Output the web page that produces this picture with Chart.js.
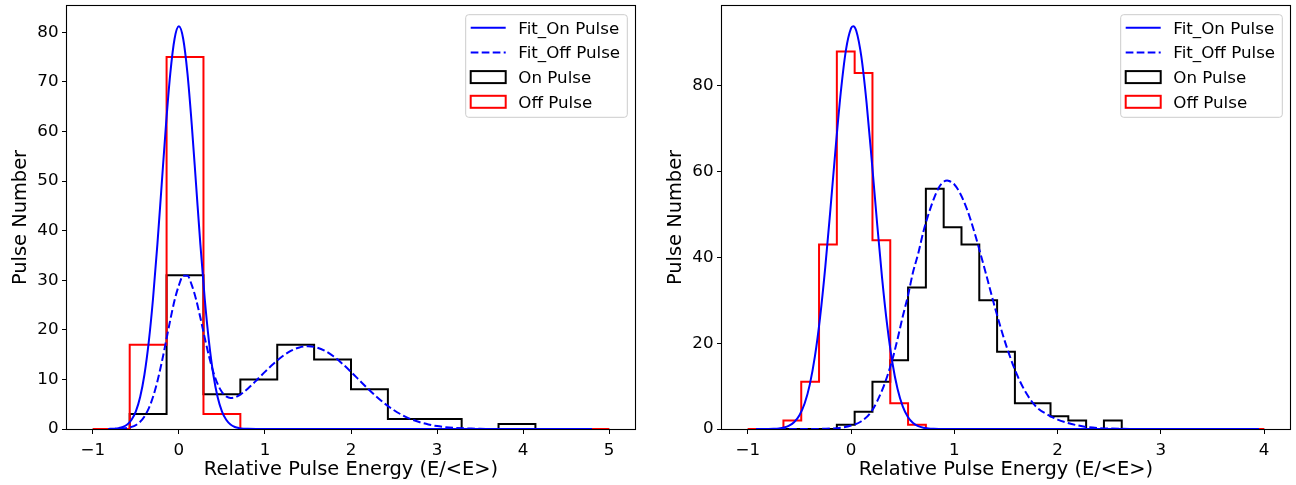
<!DOCTYPE html>
<html>
<head>
<meta charset="utf-8">
<script src="https://cdn.jsdelivr.net/npm/chart.js@4.4.1/dist/chart.umd.min.js"></script>
<style>
  html, body { margin: 0; padding: 0; background: #ffffff; }
  #wrap { position: relative; width: 1296px; height: 485px; }
  canvas { position: absolute; top: 0; }
</style>
</head>
<body>
<div id="wrap">
  <canvas id="leftPanel" width="648" height="485" style="left:0px"></canvas>
  <canvas id="rightPanel" width="648" height="485" style="left:648px"></canvas>
</div>
<script>
// ---- histogram binning (range and bin count per panel) ----
const leftBinRange = [-1, 5];
const leftBinCount = 14;
const rightBinRange = [-1, 4];
const rightBinCount = 29;

// ---- histogram counts ----
const leftOnCounts  = [0, 3, 31, 7, 10, 17, 14, 8, 2, 2, 0, 1, 0, 0];
const leftOffCounts = [0, 17, 75, 3, 0, 0, 0, 0, 0, 0, 0, 0, 0, 0];
const rightOnCounts  = [0, 0, 0, 0, 0, 1, 4, 11, 16, 33, 56, 47, 43, 30, 18, 6, 6, 3, 2, 0, 2, 0, 0, 0, 0, 0, 0, 0, 0];
const rightOffCounts = [0, 0, 2, 11, 43, 88, 83, 44, 6, 1, 0, 0, 0, 0, 0, 0, 0, 0, 0, 0, 0, 0, 0, 0, 0, 0, 0, 0, 0];

// ---- fitted curves, sampled ----
const leftFitOnX = [-0.82, -0.75, -0.7, -0.65, -0.6, -0.55, -0.5, -0.45, -0.4, -0.35, -0.3, -0.25, -0.2, -0.15, -0.1, -0.05,
  0, 0.05, 0.1, 0.15, 0.2, 0.25, 0.3, 0.35, 0.4, 0.45, 0.5, 0.55, 0.6, 0.65, 0.7, 0.75, 0.8, 0.9, 4.8];
const leftFitOnY = [0.02, 0.07, 0.18, 0.41, 0.90, 1.85, 3.57, 6.46, 10.99, 17.56, 26.36, 37.17, 49.25, 61.29, 71.66, 78.70,
  81.2, 78.70, 71.66, 61.29, 49.25, 37.17, 26.36, 17.56, 10.99, 6.46, 3.57, 1.85, 0.90, 0.41, 0.18, 0.07, 0.03, 0, 0];

const leftFitOffX = [-0.82, -0.75, -0.7, -0.65, -0.6, -0.55, -0.5, -0.45, -0.4, -0.35, -0.3, -0.25, -0.2, -0.15, -0.1, -0.05,
  0, 0.05, 0.1, 0.15, 0.2, 0.25, 0.3, 0.35, 0.4, 0.45, 0.5, 0.55, 0.6, 0.65, 0.7, 0.75, 0.8, 0.85, 0.9, 0.95, 1.0,
  1.1, 1.2, 1.3, 1.4, 1.5, 1.6, 1.7, 1.8, 1.9, 2.0, 2.1, 2.2, 2.3, 2.4, 2.5, 2.6, 2.7, 2.8, 2.9, 3.0, 3.1, 3.2, 3.3, 3.4, 3.5, 3.6,
  3.8, 4.0, 4.8];
const leftFitOffY = [0.01, 0.02, 0.05, 0.10, 0.21, 0.42, 0.80, 1.46, 2.53, 4.16, 6.49, 9.58, 13.36, 17.62, 21.99, 25.95,
  28.97, 30.9, 30.9, 29.01, 26.13, 22.42, 18.43, 14.67, 11.50, 9.08, 7.47, 6.57, 6.25, 6.37, 6.78, 7.40, 8.13, 8.94, 9.79, 10.65, 11.52,
  13.16, 14.61, 15.74, 16.45, 16.7, 16.45, 15.74, 14.61, 13.16, 11.52, 9.78, 8.06, 6.45, 5.01, 3.78, 2.77, 1.96, 1.36, 0.91, 0.59, 0.37, 0.23, 0.14, 0.08, 0.04, 0.02,
  0.01, 0, 0];

const rightFitOnX = [-0.92, -0.8, -0.75, -0.7, -0.65, -0.6, -0.55, -0.5, -0.45, -0.4, -0.35, -0.3, -0.25, -0.2, -0.15, -0.1, -0.05,
  0, 0.02, 0.05, 0.1, 0.15, 0.2, 0.25, 0.3, 0.35, 0.4, 0.45, 0.5, 0.55, 0.6, 0.65, 0.7, 0.75, 0.8, 0.85, 1.0, 3.95];
const rightFitOnY = [0, 0.02, 0.06, 0.14, 0.34, 0.77, 1.62, 3.20, 5.94, 10.35, 16.97, 26.10, 37.75, 51.27, 65.43, 78.44, 88.32,
  93.43, 93.9, 92.85, 86.68, 76.02, 62.63, 48.48, 35.24, 24.07, 15.45, 9.31, 5.27, 2.80, 1.40, 0.66, 0.29, 0.12, 0.05, 0.02, 0, 0];

const rightFitOffX = [-0.92, -0.3, -0.2, -0.1, 0.0, 0.1, 0.2, 0.3, 0.35, 0.4, 0.45, 0.5, 0.55, 0.6, 0.65, 0.7, 0.75, 0.8, 0.85, 0.9,
  0.93, 0.95, 1.0, 1.05, 1.1, 1.15, 1.2, 1.3, 1.4, 1.5, 1.6, 1.7, 1.8, 1.9, 2.0, 2.1, 2.2, 2.3, 2.4, 2.6, 3.0, 3.95];
const rightFitOffY = [0, 0.03, 0.1, 0.3, 0.8, 1.8, 4.2, 9.0, 12.3, 16.2, 21.0, 26.2, 31.0, 36.6, 40.9, 46.0, 50.1, 53.6, 56.3, 57.7,
  57.9, 57.8, 57.0, 55.2, 52.6, 49.3, 45.4, 36.7, 27.7, 19.6, 13.0, 8.2, 5.0, 3.4, 2.2, 1.4, 0.8, 0.4, 0.2, 0.05, 0, 0];

// ---- axes ----
const leftXRange = [-1.3, 5.3];
const leftYMax = 85.3;
const rightXRange = [-1.25, 4.25];
const rightYMax = 98.6;
const leftXTicks = [-1, 0, 1, 2, 3, 4, 5];
const leftYTicks = [0, 10, 20, 30, 40, 50, 60, 70, 80];
const rightXTicks = [-1, 0, 1, 2, 3, 4];
const rightYTicks = [0, 20, 40, 60, 80];

// ---- text ----
const xTitle = 'Relative Pulse Energy (E/<E>)';
const yTitle = 'Pulse Number';
const seriesNames = ['Fit_On Pulse', 'Fit_Off Pulse', 'On Pulse', 'Off Pulse'];

const FONT = '"DejaVu Sans", "Liberation Sans", sans-serif';
const BLUE = '#0000ff', RED = '#ff0000', BLACK = '#000000';
const DASH = [7.7, 3.3];

Chart.defaults.color = '#000';
Chart.defaults.font.family = FONT;

// step outline of a histogram (like histtype='step')
function stepOutline(range, nBins, counts) {
  const w = (range[1] - range[0]) / nBins;
  const pts = [{x: range[0], y: 0}];
  for (let i = 0; i < nBins; i++) pts.push({x: range[0] + (i + 1) * w, y: counts[i]});
  pts.push({x: range[1], y: 0});
  return pts;
}
function curve(xs, ys) { return xs.map((x, i) => ({x: x, y: ys[i]})); }
function tickText(v) { return v < 0 ? '\u2212' + Math.abs(v) : String(v); }

// frame on all four sides
const spinePlugin = {
  id: 'spines',
  beforeDatasetsDraw(chart) {
    const a = chart.chartArea, ctx = chart.ctx;
    ctx.save();
    ctx.strokeStyle = '#000';
    ctx.lineWidth = 1.1;
    ctx.strokeRect(a.left - 0.5, a.top - 0.5, a.right - a.left + 1, a.bottom - a.top + 1);
    ctx.restore();
  }
};

// boxed legend in the upper-right corner of the plot area
const boxLegendPlugin = {
  id: 'boxLegend',
  afterDraw(chart) {
    const a = chart.chartArea, ctx = chart.ctx;
    const w = 161.6, h = 102.6, r = 3;
    const x0 = a.right - 7.7 - w, y0 = a.top + 8.7;
    ctx.save();
    ctx.beginPath();
    ctx.moveTo(x0 + r, y0);
    ctx.arcTo(x0 + w, y0, x0 + w, y0 + h, r);
    ctx.arcTo(x0 + w, y0 + h, x0, y0 + h, r);
    ctx.arcTo(x0, y0 + h, x0, y0, r);
    ctx.arcTo(x0, y0, x0 + w, y0, r);
    ctx.closePath();
    ctx.fillStyle = 'rgba(255,255,255,0.8)';
    ctx.fill();
    ctx.strokeStyle = '#cccccc';
    ctx.lineWidth = 1;
    ctx.stroke();

    const hx0 = x0 + 5, hx1 = x0 + 40, tx = x0 + 52.6;
    seriesNames.forEach((name, i) => {
      const cy = y0 + 13 + 24.7 * i;
      ctx.lineWidth = 2;
      if (i < 2) {
        ctx.strokeStyle = BLUE;
        ctx.setLineDash(i === 1 ? DASH : []);
        ctx.beginPath();
        ctx.moveTo(hx0, cy);
        ctx.lineTo(hx1, cy);
        ctx.stroke();
        ctx.setLineDash([]);
      } else {
        ctx.strokeStyle = i === 2 ? BLACK : RED;
        ctx.strokeRect(hx0, cy - 6, hx1 - hx0, 12);
      }
      ctx.fillStyle = '#000';
      ctx.font = '16.7px ' + FONT;
      ctx.textAlign = 'left';
      ctx.textBaseline = 'alphabetic';
      ctx.fillText(name, tx, cy + 5.8);
    });
    ctx.restore();
  }
};

function buildPanel(id, opts) {
  const datasets = [
    { label: seriesNames[0], data: curve(opts.fitOnX, opts.fitOnY), borderColor: BLUE, borderWidth: 2,
      pointRadius: 0, cubicInterpolationMode: 'monotone', fill: false, clip: 0 },
    { label: seriesNames[1], data: curve(opts.fitOffX, opts.fitOffY), borderColor: BLUE, borderWidth: 2,
      borderDash: DASH, pointRadius: 0, cubicInterpolationMode: 'monotone', fill: false, clip: 0 },
    { label: seriesNames[3], data: stepOutline(opts.binRange, opts.binCount, opts.offCounts), borderColor: RED,
      borderWidth: 2, stepped: 'after', pointRadius: 0, fill: false, clip: 0 },
    { label: seriesNames[2], data: stepOutline(opts.binRange, opts.binCount, opts.onCounts), borderColor: BLACK,
      borderWidth: 2, stepped: 'after', pointRadius: 0, fill: false, clip: 0 }
  ];
  return new Chart(document.getElementById(id), {
    type: 'line',
    data: { datasets: datasets },
    options: {
      responsive: false,
      animation: false,
      devicePixelRatio: 1,
      layout: { padding: { top: 6, right: opts.padRight, bottom: 0, left: 0 } },
      plugins: { legend: { display: false }, tooltip: { enabled: false } },
      scales: {
        x: {
          type: 'linear', min: opts.xRange[0], max: opts.xRange[1],
          border: { display: false },
          grid: { drawOnChartArea: false, drawTicks: true, tickLength: 5, color: '#000', lineWidth: 1 },
          ticks: { font: { size: 16.7 }, color: '#000', padding: 7, maxRotation: 0, autoSkip: false, callback: tickText },
          afterBuildTicks: s => { s.ticks = opts.xTicks.map(v => ({ value: v })); },
          afterFit: s => { s.height = 56; s.paddingLeft = 0; s.paddingRight = 0; },
          title: { display: true, text: xTitle, color: '#000', font: { size: 19.4, lineHeight: 1 }, padding: { top: 0, bottom: 5 } }
        },
        y: {
          type: 'linear', min: 0, max: opts.yMax,
          border: { display: false },
          grid: { drawOnChartArea: false, drawTicks: true, tickLength: 5, color: '#000', lineWidth: 1 },
          ticks: { font: { size: 16.7 }, color: '#000', padding: 3.5, autoSkip: false, callback: tickText },
          afterBuildTicks: s => { s.ticks = opts.yTicks.map(v => ({ value: v })); },
          afterFit: s => { s.width = opts.yAxisWidth; s.paddingTop = 0; s.paddingBottom = 0; },
          title: { display: true, text: yTitle, color: '#000', font: { size: 19.4, lineHeight: 1 }, padding: { top: opts.yTitlePad, bottom: 0 } }
        }
      }
    },
    plugins: [spinePlugin, boxLegendPlugin]
  });
}

buildPanel('leftPanel', {
  binRange: leftBinRange, binCount: leftBinCount, onCounts: leftOnCounts, offCounts: leftOffCounts,
  fitOnX: leftFitOnX, fitOnY: leftFitOnY, fitOffX: leftFitOffX, fitOffY: leftFitOffY,
  xRange: leftXRange, yMax: leftYMax, xTicks: leftXTicks, yTicks: leftYTicks,
  yAxisWidth: 67, padRight: 13, yTitlePad: 11.5
});
buildPanel('rightPanel', {
  binRange: rightBinRange, binCount: rightBinCount, onCounts: rightOnCounts, offCounts: rightOffCounts,
  fitOnX: rightFitOnX, fitOnY: rightFitOnY, fitOffX: rightFitOffX, fitOffY: rightFitOffY,
  xRange: rightXRange, yMax: rightYMax, xTicks: rightXTicks, yTicks: rightYTicks,
  yAxisWidth: 74, padRight: 6, yTitlePad: 18.5
});
</script>
</body>
</html>
